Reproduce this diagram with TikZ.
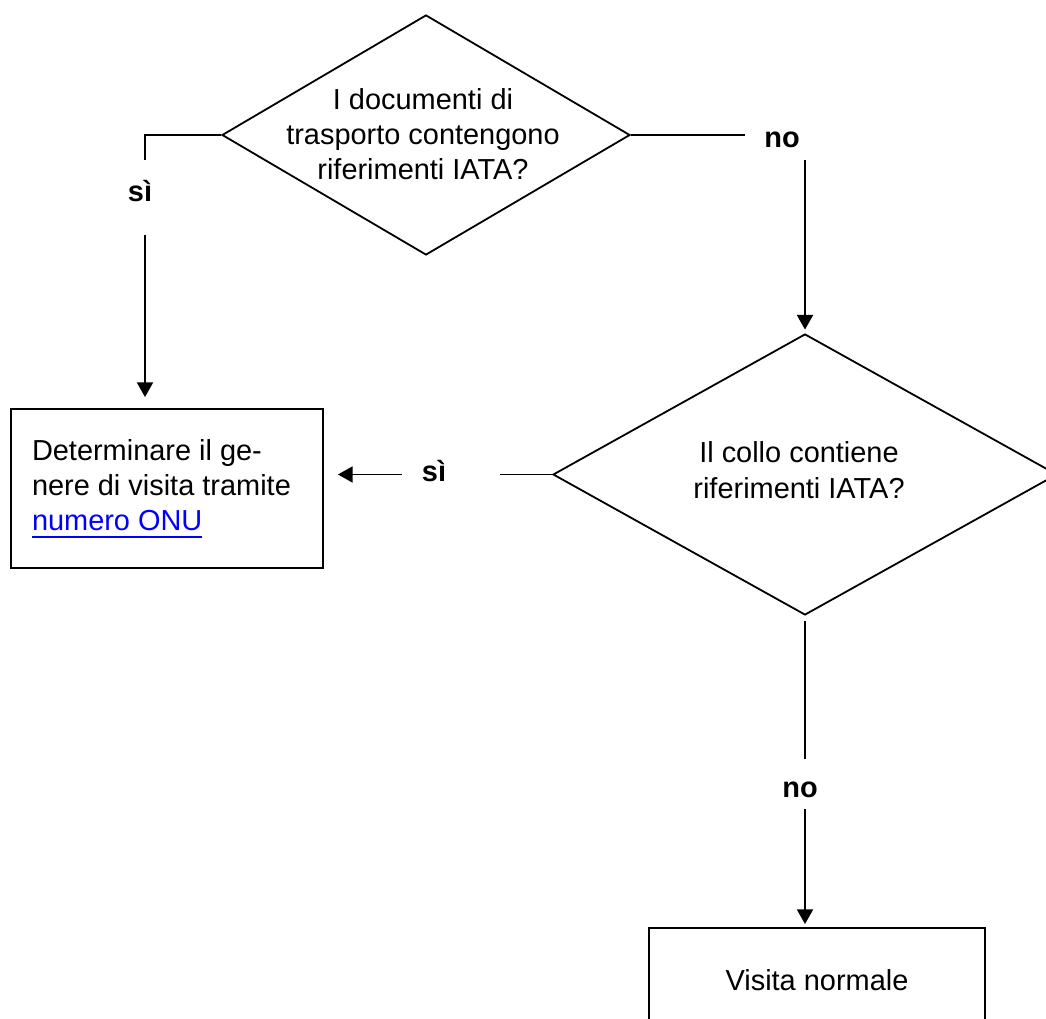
\documentclass[tikz,border=0pt]{standalone}
\usepackage{fontspec}
\setmainfont{Liberation Sans}
\usetikzlibrary{shapes.geometric,arrows.meta}
\definecolor{linkblue}{RGB}{0,0,255}
\newcommand\linkul[1]{\setbox0=\hbox{#1}\rlap{\rule[-5pt]{\wd0}{1.6pt}}\box0}
\begin{document}
\begin{tikzpicture}[x=0.75pt,y=-0.75pt,
  every node/.style={font=\fontsize{21.7pt}{26.5pt}\selectfont},
  dia/.style={diamond, draw, line width=1.35pt, inner sep=0pt},
  boxnode/.style={rectangle, draw, line width=1.4pt},
  lbl/.style={font=\fontsize{21.7pt}{26.5pt}\selectfont\bfseries, inner sep=0pt},
  conn/.style={line width=1.4pt},
  arr/.style={conn, -{Triangle[length=11pt,width=12pt]}},
]
\useasboundingbox (0,0) rectangle (1046,1019);
\clip (0,0) rectangle (1046,1019);
% decisions
\node[dia, minimum width=306pt, minimum height=180pt] (d1) at (426,135) {};
\node[align=center, inner sep=0pt] (d1t) at (423,134) {I documenti di\\trasporto contengono\\riferimenti IATA?};
\node[dia, minimum width=378pt, minimum height=210.75pt] (d2) at (805,474.5) {};
\node[align=center, inner sep=0pt] (d2t) at (799,470) {Il collo contiene\\riferimenti IATA?};
% boxes
\node[boxnode, minimum width=234pt, minimum height=119.25pt, text width=202.5pt, inner xsep=15.75pt, align=flush left] (b1) at (167,488.5) {Determinare il ge-\\nere di visita tramite\\\textcolor{linkblue}{\linkul{numero ONU}}};
\node[boxnode, minimum width=252pt, minimum height=78pt] (b2) at (817,980) {Visita normale};
% labels
\node[lbl] (s1) at (140,191) {sì};
\node[lbl] (n1) at (782,140) {no};
\node[lbl] (s2) at (434,471) {sì};
\node[lbl] (n2) at (800,790) {no};
% connector end points
\coordinate (s1a) at (145,160);
\coordinate (s1b) at (145,235);
\coordinate (n1a) at (745,135);
\coordinate (n1b) at (805,160);
\coordinate (s2a) at (500,474.5);
\coordinate (s2b) at (402,474.5);
\coordinate (n2b) at (805,759);
\coordinate (n2c) at (805,809);
% connectors
\draw[conn] (d1.west) -| (s1a);
\draw[arr, shorten >=8.25pt] (s1b) -- (s1b |- b1.north);
\draw[conn] (d1.east) -- (n1a);
\draw[arr, shorten >=2.6pt] (n1b) -- (d2.north);
\draw[conn] (d2.west) -- (s2a);
\draw[arr, shorten >=10.5pt] (s2b) -- (s2b -| b1.east);
\draw[conn, shorten <=3.75pt] (d2.south) -- (n2b);
\draw[arr, shorten >=2.25pt] (n2c) -- (n2c |- b2.north);
\end{tikzpicture}
\end{document}
